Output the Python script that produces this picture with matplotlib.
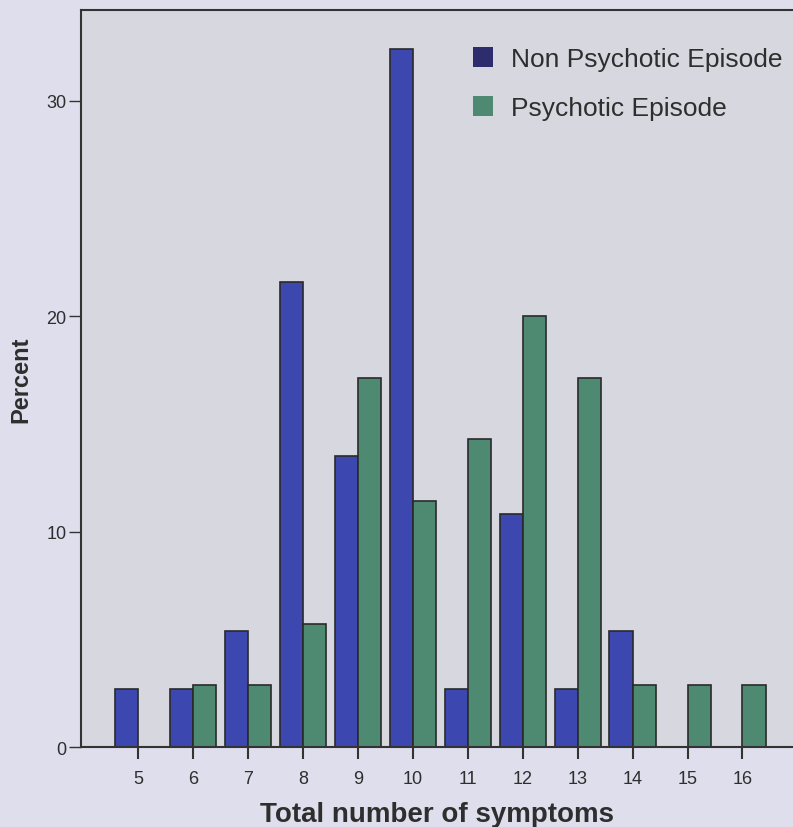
import matplotlib.pyplot as plt
import numpy as np
from matplotlib.patches import Patch

plt.rcParams["font.family"] = ["Liberation Sans", "DejaVu Sans"]

symptoms = [5, 6, 7, 8, 9, 10, 11, 12, 13, 14, 15, 16]
non_psychotic = [2.7, 2.7, 5.4, 21.6, 13.5, 32.4, 2.7, 10.8, 2.7, 5.4, 0.0, 0.0]
psychotic = [0.0, 2.86, 2.86, 5.71, 17.14, 11.43, 14.29, 20.0, 17.14, 2.86, 2.86, 2.86]
series_labels = ["Non Psychotic Episode", "Psychotic Episode"]

fig_bg = "#dedeec"
ax_bg = "#d7d7df"
blue = "#3c47b0"
green = "#4e8a72"
edge = "#2a2a2a"
text_col = "#2e2e2e"

fig = plt.figure(figsize=(7.93, 8.28), dpi=100, facecolor=fig_bg)
ax = fig.add_axes([0.102, 0.0966, 0.898, 0.89])
ax.set_facecolor(ax_bg)

x = np.array(symptoms, dtype=float)
width = 0.42
ax.bar(x - width / 2, non_psychotic, width, color=blue, edgecolor=edge, linewidth=1.2)
ax.bar(x + width / 2, psychotic, width, color=green, edgecolor=edge, linewidth=1.2)

ax.set_xlim(3.96, 16.92)
ax.set_ylim(0, 34.2)
ax.set_xticks(symptoms)
ax.set_xticklabels([str(s) for s in symptoms])
ax.set_yticks([0, 10, 20, 30])
ax.tick_params(axis="x", length=8.5, width=1.5, color="#333333", labelsize=13,
               labelcolor=text_col, pad=8)
ax.tick_params(axis="y", length=9, width=1.0, color="#333333", labelsize=13,
               labelcolor=text_col, pad=1.5)

ax.spines["right"].set_visible(False)
for side in ["left", "top", "bottom"]:
    ax.spines[side].set_color("#333333")
    ax.spines[side].set_linewidth(1.5)

ax.set_xlabel("Total number of symptoms", fontsize=20, fontweight="bold",
              color=text_col, labelpad=10)
ax.set_ylabel("Percent", fontsize=17, fontweight="bold", color=text_col, labelpad=10)

handles = [
    Patch(facecolor="#2d2d6e", edgecolor="none"),
    Patch(facecolor="#4e8a72", edgecolor="none"),
]
ax.legend(handles, series_labels, loc="upper right", bbox_to_anchor=(1.019, 0.982),
          frameon=False, fontsize=19, handlelength=0.75, handleheight=0.75,
          handletextpad=0.7, labelspacing=0.95, labelcolor=text_col)

fig.savefig("out.png", dpi=100, facecolor=fig_bg)
